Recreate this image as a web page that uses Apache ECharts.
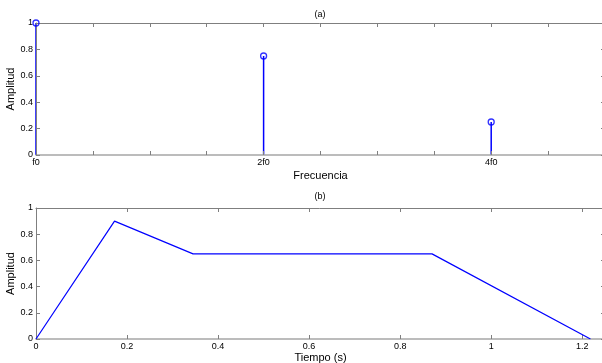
<!DOCTYPE html>
<html>
<head>
<meta charset="utf-8">
<script src="https://cdn.jsdelivr.net/npm/echarts@6/dist/echarts.min.js"></script>
<style>
  html, body { margin: 0; padding: 0; background: #fff; }
  #main { width: 602px; height: 363px; }
</style>
</head>
<body>
<div id="main"></div>
<script>
// (a) espectro: posiciones en unidades de eje (0 -> f0, 1 -> 2f0, 2 -> 4f0)
var freqPos = [0, 1, 2];
var freqAmp = [1, 0.75, 0.25];
var freqTickLabels = { 0: 'f0', 1: '2f0', 2: '4f0' };

// (b) envolvente temporal
var timeVals = [0, 0.1725, 0.345, 0.87, 1.218];
var timeAmp = [0, 0.9, 0.65, 0.65, 0];
var timeTickLabels = ['0', '0.2', '0.4', '0.6', '0.8', '1', '1.2'];

var FONT = 'Liberation Sans';
var axisCol = '#7f7f7f';
var blue = '#0000ff';

var chartDom = document.getElementById('main');
var myChart = echarts.init(chartDom, null, { renderer: 'canvas' });

// ejes auxiliares para cerrar la caja (arriba / derecha)
function boxAxis(gridIndex, pos, min, max, interval) {
  return {
    type: 'value', gridIndex: gridIndex, position: pos,
    min: min, max: max, interval: interval,
    axisLine: { show: true, onZero: false, lineStyle: { color: axisCol, width: 1 } },
    axisTick: { show: true, inside: true, length: 4, lineStyle: { color: axisCol } },
    axisLabel: { show: false },
    splitLine: { show: false }
  };
}

var stemData = freqPos.map(function (p, i) { return [p, freqAmp[i]]; });
var lineData = timeVals.map(function (t, i) { return [t, timeAmp[i]]; });

var labelStyle = { color: '#000', fontFamily: FONT, fontSize: 9 };
var nameStyle = { color: '#000', fontFamily: FONT, fontSize: 11 };

var option = {
  backgroundColor: '#fff',
  animation: false,
  grid: [
    { left: 36, top: 23, width: 569, height: 132, outerBoundsMode: 'none', containLabel: false },
    { left: 36, top: 208, width: 569, height: 131, outerBoundsMode: 'none', containLabel: false }
  ],
  xAxis: [
    {
      type: 'value', gridIndex: 0, position: 'bottom',
      min: 0, max: 2.5, interval: 0.25,
      name: 'Frecuencia', nameLocation: 'middle', nameGap: 15, nameTextStyle: nameStyle,
      axisLine: { show: true, onZero: false, lineStyle: { color: '#a6a6a6', width: 1.5 } },
      axisTick: { show: true, inside: true, length: 4, lineStyle: { color: axisCol } },
      axisLabel: Object.assign({ margin: 3, showMaxLabel: false,
        formatter: function (v) { return freqTickLabels[v] !== undefined ? freqTickLabels[v] : ''; } }, labelStyle),
      splitLine: { show: false }
    },
    boxAxis(0, 'top', 0, 2.5, 0.25),
    {
      type: 'value', gridIndex: 1, position: 'bottom',
      min: 0, max: 1.25, interval: 0.2,
      name: 'Tiempo (s)', nameLocation: 'middle', nameGap: 13, nameTextStyle: nameStyle,
      axisLine: { show: true, onZero: false, lineStyle: { color: '#a6a6a6', width: 1.5 } },
      axisTick: { show: true, inside: true, length: 4, lineStyle: { color: axisCol } },
      axisLabel: Object.assign({ margin: 3,
        formatter: function (v) {
          var k = Math.round(v / 0.2);
          if (Math.abs(v - k * 0.2) > 1e-6) return '';
          return timeTickLabels[k] || '';
        } }, labelStyle),
      splitLine: { show: false }
    },
    boxAxis(1, 'top', 0, 1.25, 0.2)
  ],
  yAxis: [
    {
      type: 'value', gridIndex: 0, position: 'left',
      min: 0, max: 1, interval: 0.2,
      name: 'Amplitud', nameLocation: 'middle', nameGap: 20, nameMoveOverlap: false, nameTextStyle: nameStyle,
      axisLine: { show: true, onZero: false, lineStyle: { color: axisCol, width: 1 } },
      axisTick: { show: true, inside: true, length: 4, lineStyle: { color: axisCol } },
      axisLabel: Object.assign({ margin: 3 }, labelStyle),
      splitLine: { show: false }
    },
    boxAxis(0, 'right', 0, 1, 0.2),
    {
      type: 'value', gridIndex: 1, position: 'left',
      min: 0, max: 1, interval: 0.2,
      name: 'Amplitud', nameLocation: 'middle', nameGap: 20, nameMoveOverlap: false, nameTextStyle: nameStyle,
      axisLine: { show: true, onZero: false, lineStyle: { color: axisCol, width: 1 } },
      axisTick: { show: true, inside: true, length: 4, lineStyle: { color: axisCol } },
      axisLabel: Object.assign({ margin: 3 }, labelStyle),
      splitLine: { show: false }
    },
    boxAxis(1, 'right', 0, 1, 0.2)
  ],
  graphic: [
    { type: 'text', x: 320, y: 15, style: { text: '(a)', fill: '#000', font: '9px ' + FONT, textAlign: 'center', textVerticalAlign: 'middle' } },
    { type: 'text', x: 320, y: 197, style: { text: '(b)', fill: '#000', font: '9px ' + FONT, textAlign: 'center', textVerticalAlign: 'middle' } }
  ],
  series: [
    {
      type: 'bar', xAxisIndex: 0, yAxisIndex: 0,
      data: stemData, barWidth: 1.5, silent: true, z: -1,
      itemStyle: { color: blue }
    },
    {
      type: 'scatter', xAxisIndex: 0, yAxisIndex: 0,
      data: stemData, symbol: 'circle', symbolSize: 6, clip: false, silent: true,
      itemStyle: { color: 'rgba(0,0,0,0)', borderColor: blue, borderWidth: 1.3 },
      z: 5
    },
    {
      type: 'line', xAxisIndex: 2, yAxisIndex: 2,
      data: lineData, showSymbol: false, symbol: 'none', silent: true,
      lineStyle: { color: blue, width: 1.2 }
    }
  ]
};

option && myChart.setOption(option, true);
window.onresize = function () { myChart.resize(); };
</script>
</body>
</html>
